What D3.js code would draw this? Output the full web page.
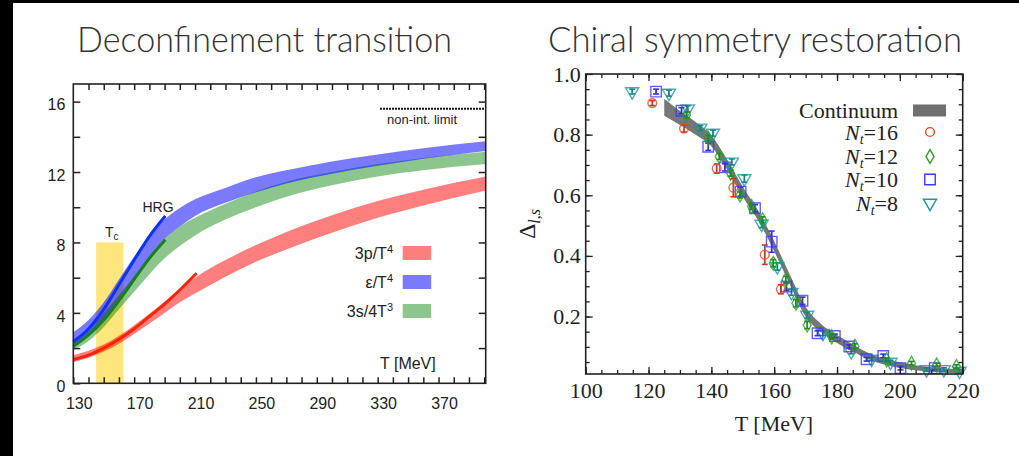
<!DOCTYPE html>
<html>
<head>
<meta charset="utf-8">
<script src="https://cdn.jsdelivr.net/npm/d3@7"></script>
<style>
  body { margin: 0; background: #fff; }
  svg { display: block; }
</style>
</head>
<body>
<svg id="chart" width="1019" height="456"></svg>
<script>
// ---- left panel data: bands of 3p/T^4, e/T^4, 3s/4T^3 ----
var tGrid = [130, 140, 150, 160, 170, 180, 190, 200, 210, 230, 250, 270, 300, 330, 360, 401];
var pLo = [1.2, 1.45, 1.8, 2.25, 2.8, 3.4, 4.0, 4.6, 5.1, 6.05, 6.9, 7.6, 8.55, 9.4, 10.1, 10.95];
var pHi = [1.6, 1.85, 2.2, 2.7, 3.3, 3.95, 4.65, 5.35, 6.0, 7.0, 7.85, 8.6, 9.55, 10.35, 11.0, 11.75];
var eLo = [2.1, 2.7, 3.6, 4.8, 6.0, 7.2, 8.2, 8.9, 9.5, 10.25, 10.85, 11.35, 11.9, 12.35, 12.75, 13.2];
var eHi = [2.9, 3.6, 4.6, 5.9, 7.2, 8.4, 9.3, 9.95, 10.45, 11.1, 11.7, 12.1, 12.6, 13.0, 13.35, 13.75];
var sLo = [1.9, 2.4, 3.2, 4.2, 5.2, 6.2, 7.1, 7.8, 8.4, 9.3, 10.0, 10.6, 11.25, 11.75, 12.1, 12.45];
var sHi = [2.5, 3.1, 4.0, 5.0, 6.1, 7.2, 8.2, 8.9, 9.4, 10.2, 10.9, 11.45, 12.0, 12.45, 12.8, 13.15];

// HRG curves
var hrgE = [[130, 2.35], [140, 3.1], [150, 4.2], [160, 5.6], [170, 7.0], [180, 8.35], [190.5, 9.5]];
var hrgS = [[130, 2.1], [140, 2.75], [150, 3.6], [160, 4.7], [170, 5.9], [180, 7.1], [190.5, 8.15]];
var hrgP = [[130, 1.35], [140, 1.6], [150, 2.0], [160, 2.5], [170, 3.1], [180, 3.8], [190, 4.5], [200, 5.3], [211, 6.25]];

var tcRange = [145, 163];
var nonIntLimit = 15.6;
var yTicksL = [0, 4, 8, 12, 16];
var xLabelsL = [130, 170, 210, 250, 290, 330, 370];

// ---- right panel data: Delta_{l,s} ----
var contT = [125, 130, 135, 140, 145, 150, 155, 160, 165, 170, 175, 180, 185, 190, 200, 210, 220];
var contLo = [0.862, 0.832, 0.80, 0.762, 0.685, 0.595, 0.515, 0.415, 0.305, 0.20, 0.148, 0.113, 0.085, 0.059, 0.030, 0.018, 0.012];
var contHi = [0.918, 0.878, 0.842, 0.798, 0.718, 0.628, 0.548, 0.448, 0.338, 0.232, 0.175, 0.139, 0.108, 0.080, 0.049, 0.033, 0.026];

// [T, value, error]
var nt16 = [[121.2, 0.904, 0.008], [131.3, 0.82, 0.012], [141.7, 0.688, 0.015], [147, 0.625, 0.03], [157, 0.404, 0.032], [162.1, 0.29, 0.015]];
var nt12 = [[132.1, 0.865, 0.01], [139, 0.788, 0.01], [142.5, 0.728, 0.01], [146.1, 0.673, 0.01], [149.1, 0.601, 0.01],
            [152.8, 0.563, 0.01], [156.3, 0.519, 0.01], [159.7, 0.376, 0.012], [163.7, 0.321, 0.012], [166.9, 0.244, 0.012],
            [170.5, 0.172, 0.012], [178.3, 0.133, 0.008], [185.7, 0.102, 0.008], [195.8, 0.057, 0.006], [203.7, 0.046, 0.006],
            [211.7, 0.040, 0.006], [218, 0.035, 0.006]];
var nt10 = [[122.4, 0.942, 0.008], [130.5, 0.879, 0.01], [139, 0.76, 0.012], [144.3, 0.692, 0.012], [149.3, 0.612, 0.015],
            [153.9, 0.557, 0.012], [159.2, 0.447, 0.035], [163.9, 0.299, 0.012], [169, 0.252, 0.012], [173.8, 0.145, 0.008],
            [179.3, 0.136, 0.006], [183.9, 0.101, 0.006], [189.4, 0.059, 0.006], [194.7, 0.070, 0.006], [200.2, 0.030, 0.006],
            [211.1, 0.030, 0.006]];
var nt8 = [[114.8, 0.942, 0.008], [126.5, 0.937, 0.01], [132.5, 0.885, 0.01], [136.5, 0.822, 0.008], [140.5, 0.805, 0.01],
           [146.5, 0.71, 0.01], [150.5, 0.655, 0.012], [156, 0.505, 0.012], [161, 0.365, 0.012], [165.5, 0.28, 0.01],
           [170.5, 0.205, 0.01], [175.5, 0.145, 0.008], [184.5, 0.085, 0.008], [191, 0.06, 0.006], [197, 0.05, 0.006],
           [208.5, 0.025, 0.006], [214, 0.025, 0.006], [219, 0.02, 0.006]];
var xLabelsR = [100, 120, 140, 160, 180, 200, 220];
var yLabelsR = [0.2, 0.4, 0.6, 0.8, 1.0];

var sansFont = "'Liberation Sans', Arial, sans-serif";
var serifFont = "'Liberation Serif', 'Times New Roman', serif";

var svg = d3.select("#chart");

// black slide edges
svg.append("rect").attr("x", 0).attr("y", 0).attr("width", 13).attr("height", 456).attr("fill", "#000");
svg.append("rect").attr("x", 0).attr("y", 0).attr("width", 1019).attr("height", 3).attr("fill", "#000");

// titles
svg.append("text")
    .attr("x", 77).attr("y", 52)
    .attr("textLength", 375).attr("lengthAdjust", "spacingAndGlyphs")
    .style("font-family", "Lato, 'Open Sans', sans-serif").style("font-weight", 300)
    .style("font-size", "35px").style("fill", "#333")
    .text("Deconfinement transition");
svg.append("text")
    .attr("x", 548).attr("y", 52)
    .attr("textLength", 414).attr("lengthAdjust", "spacingAndGlyphs")
    .style("font-family", "Lato, 'Open Sans', sans-serif").style("font-weight", 300)
    .style("font-size", "35px").style("fill", "#333")
    .text("Chiral symmetry restoration");

//=========== left chart ===========
var xL = d3.scaleLinear().domain([130, 401]).range([73.3, 485.7]);
var yL = d3.scaleLinear().domain([0, 17]).range([383.3, 84]);
var left = svg.append("g").style("font-family", sansFont);

// Tc band
left.append("rect")
    .attr("x", xL(tcRange[0])).attr("y", yL(8))
    .attr("width", xL(tcRange[1]) - xL(tcRange[0]))
    .attr("height", yL(0) - yL(8))
    .attr("fill", "#fde67c");

function bandOf(lo, hi) {
    return tGrid.map(function(t, i) { return {t: t, lo: lo[i], hi: hi[i]}; });
}
var areaL = d3.area()
    .x(d => xL(d.t)).y0(d => yL(d.lo)).y1(d => yL(d.hi))
    .curve(d3.curveMonotoneX);

var bandsL = [
    {name: "3s/4T", sup: "3", fill: "rgba(0,128,0,0.45)", data: bandOf(sLo, sHi)},
    {name: "ε/T", sup: "4", fill: "rgba(0,0,255,0.52)", data: bandOf(eLo, eHi)},
    {name: "3p/T", sup: "4", fill: "rgba(255,0,0,0.5)", data: bandOf(pLo, pHi)}
];
bandsL.forEach(function(b) {
    left.append("path").attr("d", areaL(b.data)).attr("fill", b.fill);
});

// HRG lines
var lineL = d3.line().x(d => xL(d[0])).y(d => yL(d[1])).curve(d3.curveMonotoneX);
[[hrgS, "#17801a"], [hrgE, "#0b32ff"], [hrgP, "#ff2200"]].forEach(function(h) {
    left.append("path").attr("d", lineL(h[0]))
        .attr("fill", "none").attr("stroke", h[1]).attr("stroke-width", 3);
});

left.append("text").attr("x", 142.5).attr("y", 211.5)
    .style("font-size", "14px").style("fill", "#222").text("HRG");
var tc = left.append("text").attr("x", 105).attr("y", 237)
    .style("font-size", "14px").style("fill", "#222").text("T");
tc.append("tspan").attr("dy", 3).style("font-size", "10px").text("c");

// non-interacting limit
left.append("line")
    .attr("x1", 380).attr("x2", xL(401))
    .attr("y1", yL(nonIntLimit)).attr("y2", yL(nonIntLimit))
    .attr("stroke", "#111").attr("stroke-width", 2).attr("stroke-dasharray", "2,1");
left.append("text").attr("x", 387).attr("y", 124)
    .style("font-size", "13px").style("fill", "#222").text("non-int. limit");

// legend
var legOrder = [bandsL[2], bandsL[1], bandsL[0]];
legOrder.forEach(function(b, i) {
    var base = [259, 288, 317][i];
    var t = left.append("text").attr("x", 393).attr("y", base)
        .attr("text-anchor", "end").style("font-size", "16px").style("fill", "#222")
        .text(b.name);
    t.append("tspan").attr("dy", -6).style("font-size", "11px").text(b.sup);
    left.append("rect").attr("x", 402.7).attr("y", base - 13)
        .attr("width", 28.5).attr("height", 14).attr("fill", b.fill);
});
left.append("text").attr("x", 380).attr("y", 369)
    .style("font-size", "16px").style("fill", "#222").text("T [MeV]");

// axes
function styleL(g) {
    g.select(".domain").remove();
    g.selectAll("line").attr("stroke", "#222").attr("stroke-width", 1.5);
    g.selectAll("text").style("font-family", sansFont).style("font-size", "16px").style("fill", "#222");
}
var tickTL = d3.range(140, 401, 10);
left.append("g").attr("transform", "translate(0," + yL(0) + ")")
    .call(d3.axisBottom(xL).tickValues(d3.range(130, 401, 10)).tickSize(-6).tickPadding(14)
        .tickFormat(d => xLabelsL.includes(d) ? d : ""))
    .call(styleL)
    .call(g => g.selectAll("text").attr("dx", 5.5));
left.append("g").attr("transform", "translate(0," + yL(17) + ")")
    .call(d3.axisTop(xL).tickValues(tickTL).tickSize(-6).tickFormat(""))
    .call(styleL);
left.append("g").attr("transform", "translate(" + xL(130) + ",0)")
    .call(d3.axisLeft(yL).tickValues(d3.range(0, 17, 2)).tickSize(-7).tickPadding(8)
        .tickFormat(d => yTicksL.includes(d) ? d : ""))
    .call(styleL)
    .call(g => g.selectAll("text").attr("dy", "0.52em"));
left.append("g").attr("transform", "translate(" + xL(401) + ",0)")
    .call(d3.axisRight(yL).tickValues(d3.range(2, 17, 2)).tickSize(-7).tickFormat(""))
    .call(styleL);
left.append("rect")
    .attr("x", xL(130)).attr("y", yL(17))
    .attr("width", xL(401) - xL(130)).attr("height", yL(0) - yL(17))
    .attr("fill", "none").attr("stroke", "#222").attr("stroke-width", 1.6);

//=========== right chart ===========
var xR = d3.scaleLinear().domain([100, 220]).range([585.7, 962.7]);
var yR = d3.scaleLinear().domain([0.0105, 1.0]).range([374, 74]);
var right = svg.append("g").style("font-family", serifFont);

var contData = contT.map((t, i) => ({t: t, lo: contLo[i], hi: contHi[i]}));
right.append("path")
    .attr("d", d3.area().x(d => xR(d.t)).y0(d => yR(d.lo)).y1(d => yR(d.hi)).curve(d3.curveMonotoneX)(contData))
    .attr("fill", "#777");

var series = [
    {label: "16", data: nt16, color: "#dc4a26", shape: d3.symbolCircle, size: 60},
    {label: "12", data: nt12, color: "#25a025", shape: d3.symbolDiamond, size: 55},
    {label: "10", data: nt10, color: "#3a3aff", shape: d3.symbolSquare, size: 110},
    {label: "8", data: nt8, color: "#1b9898", shape: d3.symbolTriangle, size: 75}
];

// draw data sets, N_t=8 first so the finer lattices sit on top
series.slice().reverse().forEach(function(s) {
    var g = right.append("g");
    var dark = d3.color(s.color).darker(0.4);
    s.data.forEach(function(d) {
        var cx = xR(d[0]), cy = yR(d[1]);
        g.append("line").attr("x1", cx).attr("x2", cx)
            .attr("y1", yR(d[1] - d[2])).attr("y2", yR(d[1] + d[2]))
            .attr("stroke", dark).attr("stroke-width", 1.8);
        [d[1] - d[2], d[1] + d[2]].forEach(function(v) {
            g.append("line").attr("x1", cx - 3).attr("x2", cx + 3)
                .attr("y1", yR(v)).attr("y2", yR(v))
                .attr("stroke", dark).attr("stroke-width", 1.6);
        });
        g.append("path")
            .attr("d", d3.symbol().type(s.shape).size(s.size)())
            .attr("transform", "translate(" + cx + "," + cy + ")" + (s.shape === d3.symbolTriangle ? " rotate(180)" : ""))
            .attr("fill", "none").attr("stroke", s.color).attr("stroke-width", 1.4)
            .attr("stroke-opacity", 0.8);
    });
});

// legend
right.append("text").attr("x", 898).attr("y", 118).attr("text-anchor", "end")
    .style("font-size", "22px").style("fill", "#222").text("Continuum");
right.append("rect").attr("x", 913).attr("y", 104.5).attr("width", 33).attr("height", 12)
    .attr("fill", "#6f6f6f");
var legY = [132, 156.5, 179.5, 203];
series.forEach(function(s, i) {
    var t = right.append("text").attr("x", 898).attr("y", legY[i] + 7.5).attr("text-anchor", "end")
        .style("font-size", "22px").style("fill", "#222");
    t.append("tspan").style("font-style", "italic").text("N");
    t.append("tspan").attr("dy", 4).style("font-style", "italic").style("font-size", "14px").text("t");
    t.append("tspan").attr("dy", -4).text("=" + s.label);
    right.append("path")
        .attr("d", d3.symbol().type(s.shape).size(s.size)())
        .attr("transform", "translate(930," + legY[i] + ")" + (s.shape === d3.symbolTriangle ? " rotate(180)" : ""))
        .attr("fill", "none").attr("stroke", s.color).attr("stroke-width", 1.4);
});

// axes
function styleR(g) {
    g.select(".domain").remove();
    g.selectAll("line").attr("stroke", "#222").attr("stroke-width", 1.3);
    g.selectAll("text").style("font-family", serifFont).style("font-size", "22px").style("fill", "#222");
}
var minorX = d3.range(100, 221, 5), majorX = d3.range(100, 221, 20);
var minorY = d3.range(0.05, 1.0, 0.05), majorY = yLabelsR;
right.append("g").attr("transform", "translate(0,374)")
    .call(d3.axisBottom(xR).tickValues(minorX).tickSize(-4).tickFormat("")).call(styleR);
right.append("g").attr("transform", "translate(0,374)")
    .call(d3.axisBottom(xR).tickValues(majorX).tickSize(-7).tickPadding(8)
        .tickFormat(d => xLabelsR.includes(d) ? d : "")).call(styleR);
right.append("g").attr("transform", "translate(0,74)")
    .call(d3.axisTop(xR).tickValues(minorX).tickSize(-4).tickFormat("")).call(styleR);
right.append("g").attr("transform", "translate(0,74)")
    .call(d3.axisTop(xR).tickValues(majorX).tickSize(-7).tickFormat("")).call(styleR);
right.append("g").attr("transform", "translate(585.7,0)")
    .call(d3.axisLeft(yR).tickValues(minorY).tickSize(-4).tickFormat("")).call(styleR);
right.append("g").attr("transform", "translate(585.7,0)")
    .call(d3.axisLeft(yR).tickValues(majorY).tickSize(-7).tickPadding(5).tickFormat(d3.format(".1f"))).call(styleR);
right.append("g").attr("transform", "translate(962.7,0)")
    .call(d3.axisRight(yR).tickValues(minorY).tickSize(-4).tickFormat("")).call(styleR);
right.append("g").attr("transform", "translate(962.7,0)")
    .call(d3.axisRight(yR).tickValues(majorY).tickSize(-7).tickFormat("")).call(styleR);
right.append("rect").attr("x", 585.7).attr("y", 74).attr("width", 377).attr("height", 300)
    .attr("fill", "none").attr("stroke", "#222").attr("stroke-width", 1.6);

right.append("text").attr("x", 774).attr("y", 431).attr("text-anchor", "middle")
    .style("font-size", "22px").style("fill", "#222").text("T [MeV]");
var dl = right.append("text").attr("transform", "translate(535,224) rotate(-90)")
    .attr("text-anchor", "middle").style("font-size", "24px").style("fill", "#222");
dl.append("tspan").text("Δ");
dl.append("tspan").attr("dy", 5).style("font-style", "italic").style("font-size", "16px").text("l,s");
</script>
</body>
</html>
